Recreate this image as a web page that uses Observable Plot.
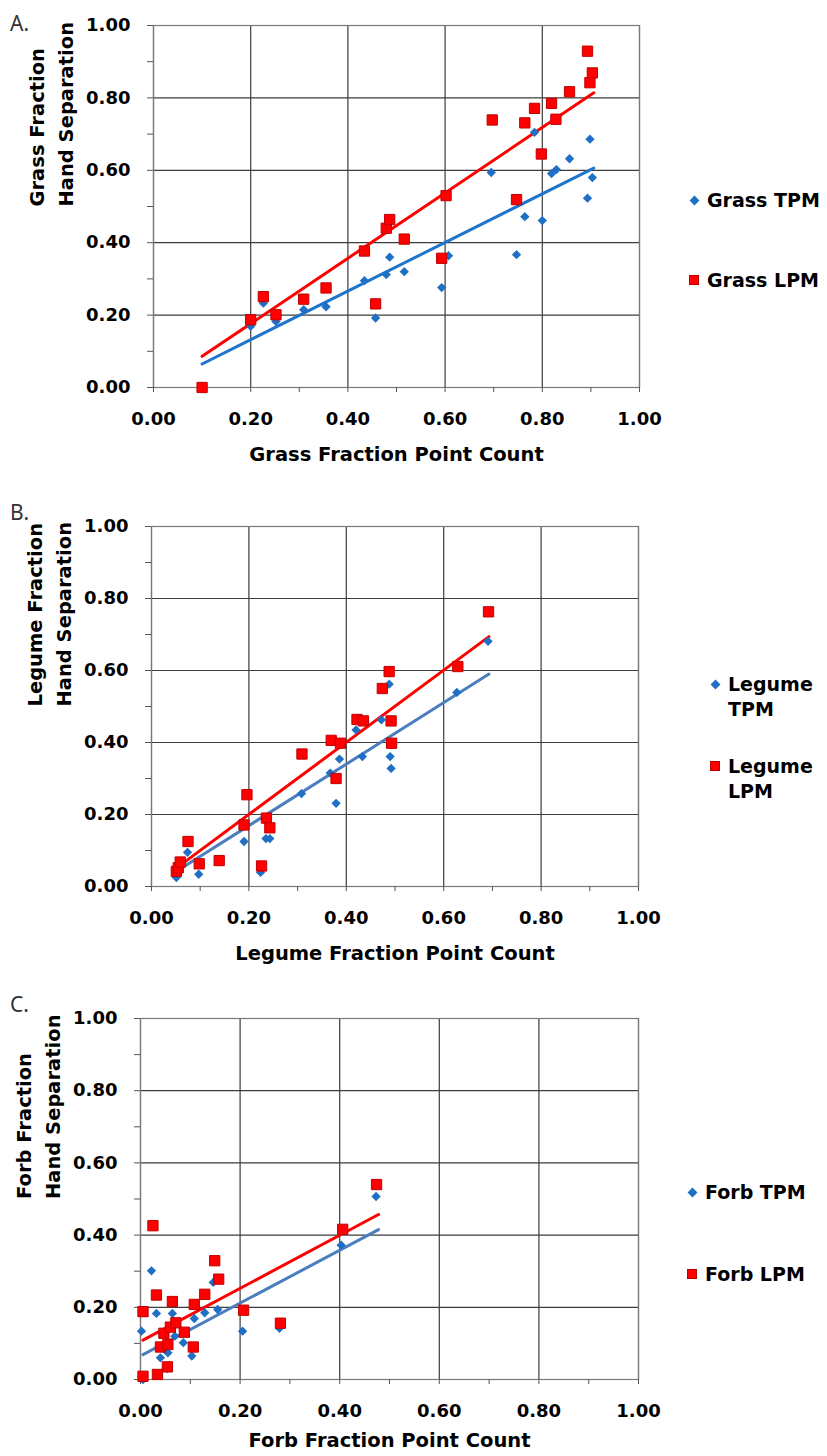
<!DOCTYPE html>
<html>
<head>
<meta charset="utf-8">
<script src="https://cdn.jsdelivr.net/npm/d3@7"></script>
<script src="https://cdn.jsdelivr.net/npm/@observablehq/plot@0.6"></script>
<style>
  body { margin: 0; background: #fff; }
  #root { position: relative; width: 827px; height: 1456px; overflow: hidden; background: #fff; }
  .panel { position: absolute; left: 0; }
  .tag { position: absolute; font-family: "Noto Sans", sans-serif; font-size: 21px; line-height: 21px; color: #333; }
  .leg { position: absolute; font-family: "DejaVu Sans", sans-serif; font-weight: bold; font-size: 19px; line-height: 25px; color: #000; white-space: nowrap; }
  .dia { position: absolute; width: 7px; height: 7px; background: #1f6fc5; transform: rotate(45deg); }
  .sq { position: absolute; width: 10px; height: 10px; background: #ff0000; box-sizing: border-box; border: 1px solid #c00000; }
</style>
</head>
<body>
<div id="root"></div>
<script>
// ---------- data ----------
const majorTicks = [0, 0.2, 0.4, 0.6, 0.8, 1.0];
const minorTicks = [0, 0.1, 0.2, 0.3, 0.4, 0.5, 0.6, 0.7, 0.8, 0.9, 1.0];

// Panel A: Grass
const grassTPM = [[0.100,0.000],[0.200,0.169],[0.226,0.233],[0.252,0.182],[0.309,0.215],[0.355,0.223],[0.434,0.295],[0.457,0.192],[0.479,0.312],[0.486,0.360],[0.516,0.320],[0.593,0.276],[0.607,0.364],[0.695,0.594],[0.747,0.367],[0.764,0.472],[0.784,0.705],[0.800,0.461],[0.819,0.591],[0.829,0.602],[0.856,0.632],[0.893,0.523],[0.898,0.686],[0.903,0.580]];
const grassLPM = [[0.100,0.000],[0.200,0.187],[0.226,0.251],[0.252,0.201],[0.309,0.244],[0.355,0.275],[0.434,0.377],[0.457,0.231],[0.479,0.440],[0.486,0.464],[0.516,0.410],[0.593,0.357],[0.602,0.530],[0.697,0.739],[0.747,0.519],[0.764,0.731],[0.784,0.771],[0.798,0.645],[0.819,0.785],[0.828,0.741],[0.856,0.817],[0.893,0.929],[0.898,0.842],[0.903,0.869]];
const grassTrendTPM = [[0.100,0.065],[0.906,0.606]];
const grassTrendLPM = [[0.100,0.086],[0.906,0.814]];

// Panel B: Legume
const legumeTPM = [[0.051,0.025],[0.055,0.040],[0.074,0.095],[0.097,0.034],[0.190,0.125],[0.224,0.039],[0.235,0.133],[0.243,0.133],[0.308,0.258],[0.367,0.315],[0.379,0.231],[0.386,0.354],[0.420,0.435],[0.433,0.361],[0.472,0.463],[0.488,0.562],[0.490,0.361],[0.492,0.328],[0.627,0.539],[0.691,0.681]];
const legumeLPM = [[0.051,0.042],[0.055,0.052],[0.059,0.068],[0.075,0.125],[0.098,0.063],[0.139,0.072],[0.190,0.171],[0.196,0.255],[0.226,0.057],[0.236,0.190],[0.243,0.163],[0.309,0.368],[0.369,0.406],[0.379,0.300],[0.388,0.398],[0.422,0.464],[0.435,0.460],[0.474,0.550],[0.488,0.597],[0.492,0.460],[0.493,0.398],[0.629,0.611],[0.692,0.763]];
const legumeTrendTPM = [[0.058,0.048],[0.693,0.590]];
const legumeTrendLPM = [[0.058,0.058],[0.693,0.694]];

// Panel C: Forb
const forbTPM = [[0.002,0.134],[0.005,0.000],[0.022,0.301],[0.032,0.183],[0.040,0.060],[0.047,0.085],[0.054,0.030],[0.055,0.074],[0.064,0.183],[0.069,0.120],[0.086,0.102],[0.103,0.065],[0.108,0.169],[0.129,0.185],[0.146,0.269],[0.155,0.194],[0.205,0.134],[0.279,0.142],[0.403,0.372],[0.473,0.507]];
const forbLPM = [[0.005,0.009],[0.005,0.188],[0.025,0.426],[0.032,0.234],[0.034,0.014],[0.040,0.090],[0.047,0.128],[0.054,0.035],[0.055,0.097],[0.060,0.145],[0.064,0.216],[0.071,0.157],[0.088,0.131],[0.106,0.090],[0.108,0.208],[0.129,0.236],[0.149,0.329],[0.157,0.278],[0.207,0.192],[0.281,0.156],[0.406,0.416],[0.474,0.540]];
const forbTrendTPM = [[0.005,0.069],[0.478,0.415]];
const forbTrendLPM = [[0.005,0.109],[0.478,0.457]];

// ---------- panel builder ----------
function panel(cfg) {
  const fmt = d3.format(".2f");
  return Plot.plot({
    width: 827,
    height: cfg.height,
    marginTop: cfg.mt, marginBottom: cfg.mb, marginLeft: cfg.ml, marginRight: cfg.mr,
    x: {domain: [0, 1]},
    y: {domain: [0, 1]},
    style: {fontFamily: "'DejaVu Sans', sans-serif", fontWeight: "bold", background: "transparent", color: "#000"},
    marks: [
      Plot.gridX(majorTicks, {stroke: "#3c3c3c", strokeOpacity: 1, strokeWidth: 1.2}),
      Plot.gridY(majorTicks, {stroke: "#3c3c3c", strokeOpacity: 1, strokeWidth: 1.2}),
      Plot.frame({stroke: "#7a7a7a", strokeWidth: 1.2}),
      Plot.axisX({ticks: minorTicks, tickSize: 5, tickFormat: () => "", stroke: "#555", label: null}),
      Plot.axisY({ticks: minorTicks, tickSize: 6, tickFormat: () => "", stroke: "#555", label: null}),
      Plot.axisX({ticks: majorTicks, tickSize: 0, tickPadding: 25, tickFormat: fmt, fontSize: 18, fill: "#000", label: null}),
      Plot.axisY({ticks: majorTicks, tickSize: 0, tickPadding: 23, tickFormat: fmt, fontSize: 18, fill: "#000", label: null}),
      Plot.text([cfg.xTitle], {text: d => d, frameAnchor: "bottom", dy: cfg.titleDy, fontSize: 19.5, lineAnchor: "middle", fill: "#000"}),
      Plot.text([cfg.yTitle], {text: d => d, frameAnchor: "left", dx: -104, rotate: -90, fontSize: 19.5, lineAnchor: "middle", lineHeight: 1.44, fill: "#000"}),
      Plot.line(cfg.trendTPM, {x: d => d[0], y: d => d[1], stroke: cfg.blueLine, strokeWidth: 3}),
      Plot.line(cfg.trendLPM, {x: d => d[0], y: d => d[1], stroke: "#ff0000", strokeWidth: 3}),
      Plot.dot(cfg.tpm, {x: d => d[0], y: d => d[1], symbol: "diamond2", r: 4.2, fill: "#1f6fc5"}),
      Plot.dot(cfg.lpm, {x: d => d[0], y: d => d[1], symbol: "square", r: 5.8, fill: "#ff0000", stroke: "#c00000", strokeWidth: 1})
    ]
  });
}

const root = document.getElementById("root");
function place(el, top) {
  const w = document.createElement("div");
  w.className = "panel";
  w.style.top = top + "px";
  w.appendChild(el);
  root.appendChild(w);
}
function addDiv(cls, left, top, html) {
  const d = document.createElement("div");
  d.className = cls;
  d.style.left = left + "px";
  d.style.top = top + "px";
  if (html) d.innerHTML = html;
  root.appendChild(d);
}

// Panel A
place(panel({height: 500, mt: 25, mb: 113, ml: 153, mr: 188, titleDy: 67,
  xTitle: "Grass Fraction Point Count", yTitle: "Grass Fraction\nHand Separation",
  tpm: grassTPM, lpm: grassLPM, trendTPM: grassTrendTPM, trendLPM: grassTrendLPM, blueLine: "#1f75cc"}), 0);
// Panel B
place(panel({height: 493, mt: 26, mb: 107, ml: 151, mr: 189, titleDy: 67,
  xTitle: "Legume Fraction Point Count", yTitle: "Legume Fraction\nHand Separation",
  tpm: legumeTPM, lpm: legumeLPM, trendTPM: legumeTrendTPM, trendLPM: legumeTrendLPM, blueLine: "#4a7ebf"}), 500);
// Panel C
place(panel({height: 460, mt: 25, mb: 74, ml: 140, mr: 189, titleDy: 61,
  xTitle: "Forb Fraction Point Count", yTitle: "Forb Fraction\nHand Separation",
  tpm: forbTPM, lpm: forbLPM, trendTPM: forbTrendTPM, trendLPM: forbTrendLPM, blueLine: "#4a7ebf"}), 993);

// Panel tags
addDiv("tag", 10, 13, "A.");
addDiv("tag", 10, 502, "B.");
addDiv("tag", 10, 994, "C.");

// Legends
addDiv("dia", 690.5, 197);  addDiv("leg", 707, 188, "Grass TPM");
addDiv("sq", 689, 275);     addDiv("leg", 707, 268, "Grass LPM");
addDiv("dia", 711.5, 680.5); addDiv("leg", 728, 671.5, "Legume<br>TPM");
addDiv("sq", 710, 761);     addDiv("leg", 728, 753.5, "Legume<br>LPM");
addDiv("dia", 688.5, 1188.5); addDiv("leg", 705, 1179.5, "Forb TPM");
addDiv("sq", 687, 1269);    addDiv("leg", 705, 1261.5, "Forb LPM");
</script>
</body>
</html>
